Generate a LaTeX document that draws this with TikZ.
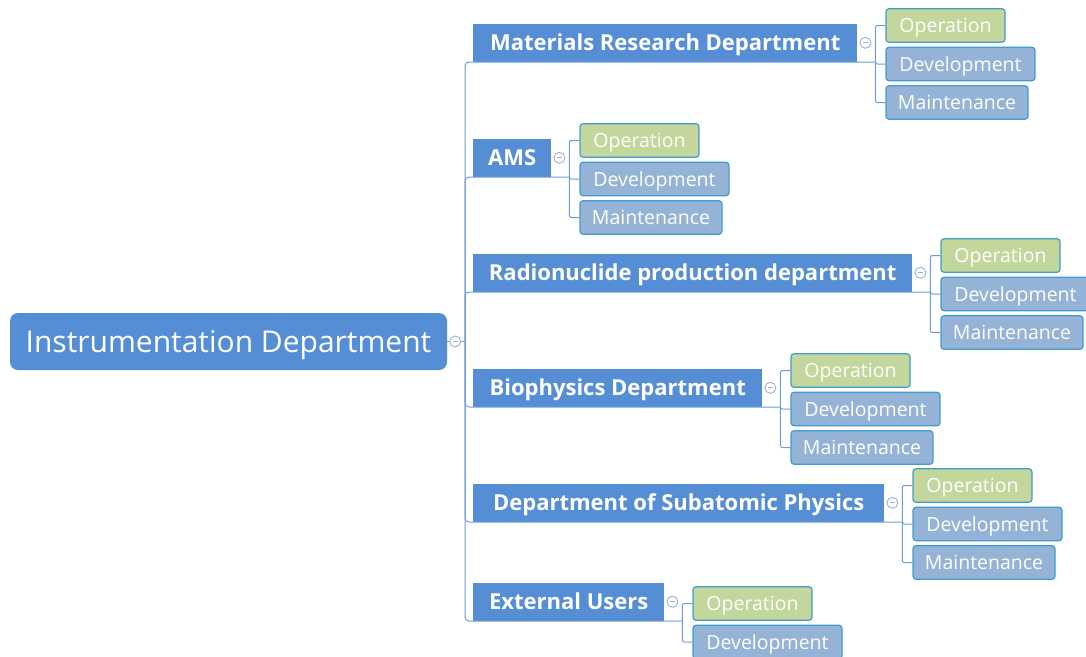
\documentclass[tikz,border=0pt]{standalone}
\usepackage{fontspec}
\setmainfont{Open Sans}
\usepackage{tikz}
\usetikzlibrary{positioning, calc}
\definecolor{topicBlue}{RGB}{85,142,213}
\definecolor{lineBlue}{RGB}{108,157,218}
\definecolor{opGreen}{RGB}{195,214,155}
\definecolor{leafBlue}{RGB}{149,179,215}
\definecolor{leafEdge}{RGB}{64,156,206}
\definecolor{iconBlue}{RGB}{150,178,222}

\begin{document}
\begin{tikzpicture}[x=1pt,y=-1pt,
  root/.style={rounded corners=8pt, fill=topicBlue, text=white,
    minimum width=437pt, minimum height=57pt, inner sep=0pt,
    text height=25pt, text depth=3.6pt,
    font=\fontsize{30}{34}\selectfont},
  dept/.style={fill=topicBlue, text=white, minimum height=38pt,
    anchor=south west, inner sep=0pt, text height=19pt, text depth=3.3pt,
    font=\fontsize{22}{25}\selectfont\bfseries},
  leaf/.style={draw=leafEdge, line width=1.2pt, rounded corners=3pt,
    fill=leafBlue, text=white, minimum height=33.5pt, inner sep=0pt,
    text height=17pt, text depth=3pt,
    anchor=west, font=\fontsize{19.5}{22}\selectfont},
  toggle/.style={circle, draw=iconBlue, fill=white, line width=0.9pt,
    minimum size=11pt, inner sep=0pt,
    path picture={\draw[iconBlue, line width=0.9pt]
      ($(path picture bounding box.west)+(2.8pt,0pt)$) --
      ($(path picture bounding box.east)+(-2.8pt,0pt)$);}},
  link/.style={draw=lineBlue, line width=1pt}
]
  \clip (0,0) rectangle (1086,656);

  % main topic
  \node[root] (root) at (228.5,341.5) {Instrumentation Department};
  \coordinate (trunk) at (465,341.5);

  % departments: name / bottom y / width / label / leaves / leaf shift
  \foreach \i/\y/\w/\txt/\n/\o in {
      mat/62/384/Materials Research Department/3/0,
      ams/177/78/AMS/3/0,
      rad/292/439/Radionuclide production department/3/0,
      bio/407/289/Biophysics Department/3/0,
      sub/522/411/Department of Subatomic Physics/3/0,
      ext/621/191/External Users/2/19} {
    \node[dept, minimum width=\w pt] (\i) at (473,\y) {\txt};
    \coordinate (\i-hub) at ($(\i.south east)+(18,0)$);
    \foreach \c/\dy/\cw/\s/\ctxt [count=\k] in {
        op/-36.5/119/opGreen/Operation,
        dev/2/149/leafBlue/Development,
        mnt/40.5/142/leafBlue/Maintenance} {
      \ifnum\k>\n\else
        \node[leaf, fill=\s, minimum width=\cw pt] (\i-\c)
          at ($(\i.south east)+(28,\dy+\o)$) {\ctxt};
        \draw[link, rounded corners=2pt] (\i-hub) |- (\i-\c.west);
      \fi
    }
    \draw[link, rounded corners=4pt] (trunk) |- (\i.south west)
      -- (\i.south east) -- (\i-hub);
    \node[toggle] (\i-t) at ($(\i.east)+(8,0)$) {};
  }

  \draw[link] (root.east) -- (trunk);
  \node[toggle] (root-t) at ($(root.east)+(8,0)$) {};
\end{tikzpicture}
\end{document}
